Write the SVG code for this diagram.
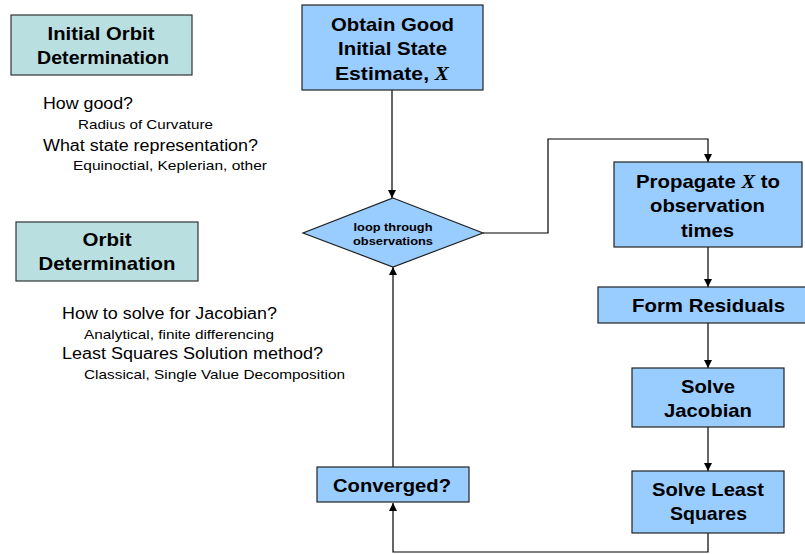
<svg xmlns="http://www.w3.org/2000/svg" width="805" height="554" viewBox="0 0 805 554">
<defs>
<marker id="ah" viewBox="0 0 10 10" refX="10" refY="5" markerWidth="8" markerHeight="8" markerUnits="userSpaceOnUse" orient="auto">
<path d="M0,0 L10,5 L0,10 z" fill="#000"/>
</marker>
<style>
.b{fill:#99CCFF;stroke:#222;stroke-width:1.2}
.t{fill:#B9DFE0;stroke:#333;stroke-width:1.2}
.h{font-family:"Liberation Sans",Arial,sans-serif;font-weight:bold;fill:#000;text-anchor:middle}
.n{font-family:"Liberation Sans",Arial,sans-serif;fill:#000}
.x{font-family:"Liberation Serif","Times New Roman",serif;font-style:italic;font-weight:bold}
.c{fill:none;stroke:#000;stroke-width:1.2}
</style>
</defs>
<rect width="805" height="554" fill="#fff"/>
<g id="iod">
<rect class="t" x="11" y="15" width="181" height="60"/>
<text class="h" font-size="18.5" x="101" y="40" textLength="107" lengthAdjust="spacingAndGlyphs">Initial Orbit</text>
<text class="h" font-size="18.5" x="103" y="64" textLength="132" lengthAdjust="spacingAndGlyphs">Determination</text>
</g>
<g id="iod-notes">
<text class="n" font-size="16" x="43" y="109" textLength="90" lengthAdjust="spacingAndGlyphs">How good?</text>
<text class="n" font-size="13.5" x="78" y="129" textLength="135" lengthAdjust="spacingAndGlyphs">Radius of Curvature</text>
<text class="n" font-size="16" x="43" y="151" textLength="215" lengthAdjust="spacingAndGlyphs">What state representation?</text>
<text class="n" font-size="13.5" x="73" y="170" textLength="194" lengthAdjust="spacingAndGlyphs">Equinoctial, Keplerian, other</text>
</g>
<g id="od">
<rect class="t" x="16" y="222" width="182" height="59"/>
<text class="h" font-size="18.5" x="107" y="246" textLength="49" lengthAdjust="spacingAndGlyphs">Orbit</text>
<text class="h" font-size="18.5" x="107" y="270" textLength="137" lengthAdjust="spacingAndGlyphs">Determination</text>
</g>
<g id="od-notes">
<text class="n" font-size="16" x="62" y="319" textLength="215" lengthAdjust="spacingAndGlyphs">How to solve for Jacobian?</text>
<text class="n" font-size="13.5" x="84" y="339" textLength="190" lengthAdjust="spacingAndGlyphs">Analytical, finite differencing</text>
<text class="n" font-size="16" x="62" y="359" textLength="261" lengthAdjust="spacingAndGlyphs">Least Squares Solution method?</text>
<text class="n" font-size="13.5" x="84" y="379" textLength="261" lengthAdjust="spacingAndGlyphs">Classical, Single Value Decomposition</text>
</g>
<g id="connectors">
<line class="c" x1="392" y1="90" x2="392" y2="198" marker-end="url(#ah)"/>
<polyline class="c" points="483,233 548,233 548,139 708,139 708,162" marker-end="url(#ah)"/>
<line class="c" x1="708" y1="247" x2="708" y2="287" marker-end="url(#ah)"/>
<line class="c" x1="708" y1="323" x2="708" y2="368" marker-end="url(#ah)"/>
<line class="c" x1="708" y1="427" x2="708" y2="471" marker-end="url(#ah)"/>
<polyline class="c" points="708,533 708,552 393,552 393,503" marker-end="url(#ah)"/>
<line class="c" x1="393" y1="467" x2="393" y2="267" marker-end="url(#ah)"/>
</g>
<g id="start">
<rect class="b" x="302" y="5" width="181" height="85"/>
<text class="h" font-size="19" x="392.5" y="31" textLength="123" lengthAdjust="spacingAndGlyphs">Obtain Good</text>
<text class="h" font-size="19" x="392.5" y="55" textLength="109" lengthAdjust="spacingAndGlyphs">Initial State</text>
<text class="h" font-size="19" x="392" y="80" textLength="114" lengthAdjust="spacingAndGlyphs">Estimate, <tspan class="x">X</tspan></text>
</g>
<g id="loop">
<polygon class="b" points="393,198 483,233 393,267 303,233"/>
<text class="h" font-size="11.5" x="393" y="231" textLength="79" lengthAdjust="spacingAndGlyphs">loop through</text>
<text class="h" font-size="11.5" x="393" y="245" textLength="80" lengthAdjust="spacingAndGlyphs">observations</text>
</g>
<g id="propagate">
<rect class="b" x="614" y="162" width="188" height="85"/>
<text class="h" font-size="19" x="708" y="188" textLength="144" lengthAdjust="spacingAndGlyphs">Propagate <tspan class="x">X</tspan> to</text>
<text class="h" font-size="19" x="707.5" y="212" textLength="115" lengthAdjust="spacingAndGlyphs">observation</text>
<text class="h" font-size="19" x="707.5" y="237" textLength="53" lengthAdjust="spacingAndGlyphs">times</text>
</g>
<g id="residuals">
<rect class="b" x="598" y="287" width="220" height="36"/>
<text class="h" font-size="19" x="708.5" y="312" textLength="153" lengthAdjust="spacingAndGlyphs">Form Residuals</text>
</g>
<g id="jacobian">
<rect class="b" x="632" y="368" width="152" height="59"/>
<text class="h" font-size="19" x="708" y="393" textLength="54" lengthAdjust="spacingAndGlyphs">Solve</text>
<text class="h" font-size="19" x="708" y="417" textLength="88" lengthAdjust="spacingAndGlyphs">Jacobian</text>
</g>
<g id="lsq">
<rect class="b" x="632" y="471" width="152" height="62"/>
<text class="h" font-size="19" x="708" y="496" textLength="112" lengthAdjust="spacingAndGlyphs">Solve Least</text>
<text class="h" font-size="19" x="708.5" y="520" textLength="77" lengthAdjust="spacingAndGlyphs">Squares</text>
</g>
<g id="converged">
<rect class="b" x="317" y="467" width="152" height="35"/>
<text class="h" font-size="19" x="392" y="492" textLength="118" lengthAdjust="spacingAndGlyphs">Converged?</text>
</g>
</svg>
